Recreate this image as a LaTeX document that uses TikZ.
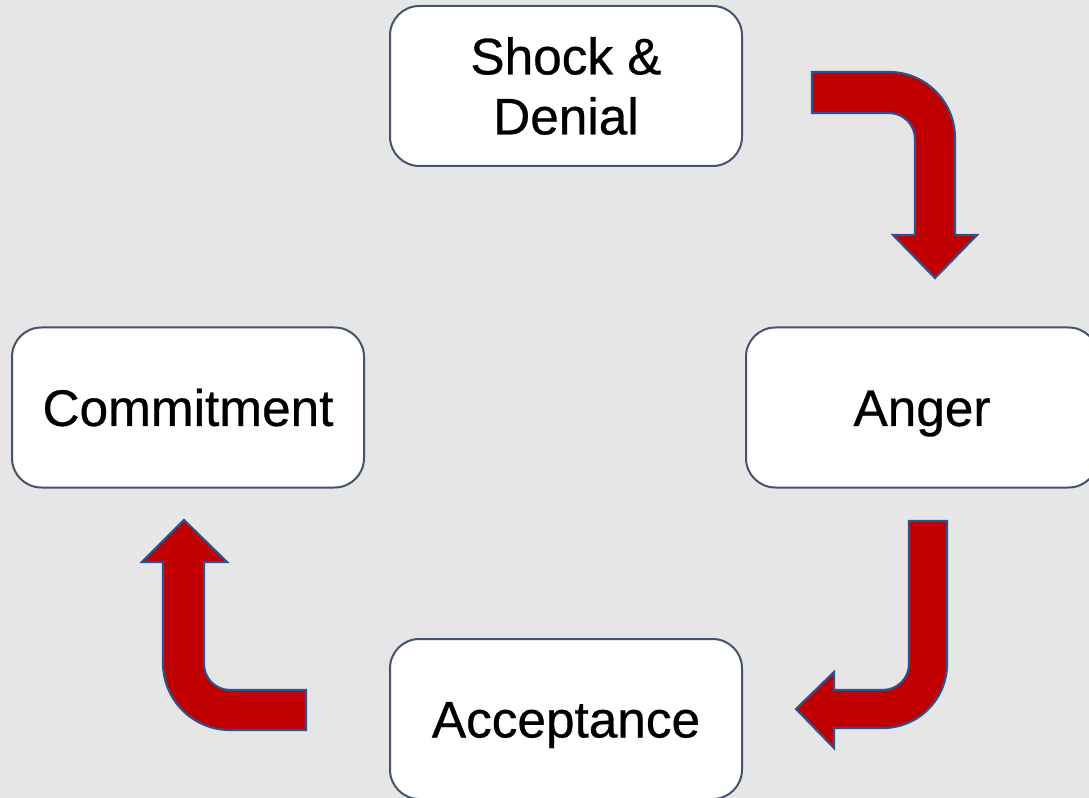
\documentclass[tikz,border=0pt]{standalone}
\usepackage{fontspec}
\setmainfont{Liberation Sans}
\newfontfamily\stagefont{Liberation Sans}[FakeBold=0.6]
\definecolor{bg}{HTML}{E7E6E6}
\definecolor{boxline}{HTML}{44546A}
\definecolor{arrowred}{HTML}{C00000}
\definecolor{arrowline}{HTML}{2F528F}
\begin{document}
\begin{tikzpicture}[x=0.75pt,y=-0.75pt,
  stage/.style={draw=boxline, line width=1.5pt, fill=white, rounded corners=22pt,
    minimum width=264pt, minimum height=120pt, align=center, inner sep=0pt,
    font=\stagefont\fontsize{38.5}{45}\selectfont},
  oneline/.style={text height=27.6pt, text depth=0pt},
  bendarrow/.style={fill=arrowred, draw=arrowline, line width=1.6pt, line join=miter}]
\useasboundingbox (0,0) rectangle (1089,798);
\clip (0,0) rectangle (1089,798);
\fill[bg] (0,0) rectangle (1089,798);

\node[stage] (shock) at (566,86) {Shock \&\\Denial};
\node[stage, oneline] (commit) at (188,407.5) {Commitment};
\node[stage, oneline] (anger) at (922,407.5) {Anger};
\node[stage, oneline] (accept) at (566,719) {Acceptance};

% arrow: shock -> anger
\draw[bendarrow] (812,72) -- (889,72) .. controls (925.5,72) and (955,101.5) .. (955,138)
  -- (955,235) -- (977,235) -- (935,278) -- (893,235) -- (915,235) -- (915,139)
  .. controls (915,124.6) and (903.4,113) .. (889,113) -- (812,113) -- cycle;

% arrow: anger -> acceptance
\draw[bendarrow] (909,521) -- (947,521) -- (947,664)
  .. controls (947,699.3) and (918.3,728) .. (883,728) -- (834,728) -- (834,748)
  -- (796,709) -- (834,672) -- (834,690) -- (883,690)
  .. controls (897.4,690) and (909,678.4) .. (909,664) -- cycle;

% arrow: acceptance -> commitment
\draw[bendarrow] (306,690) -- (306,730) -- (230,730)
  .. controls (193,730) and (163,700) .. (163,663) -- (163,562) -- (142,562)
  -- (184,520) -- (227,562) -- (204,562) -- (204,664)
  .. controls (204,678.4) and (215.6,690) .. (230,690) -- cycle;
\end{tikzpicture}
\end{document}
